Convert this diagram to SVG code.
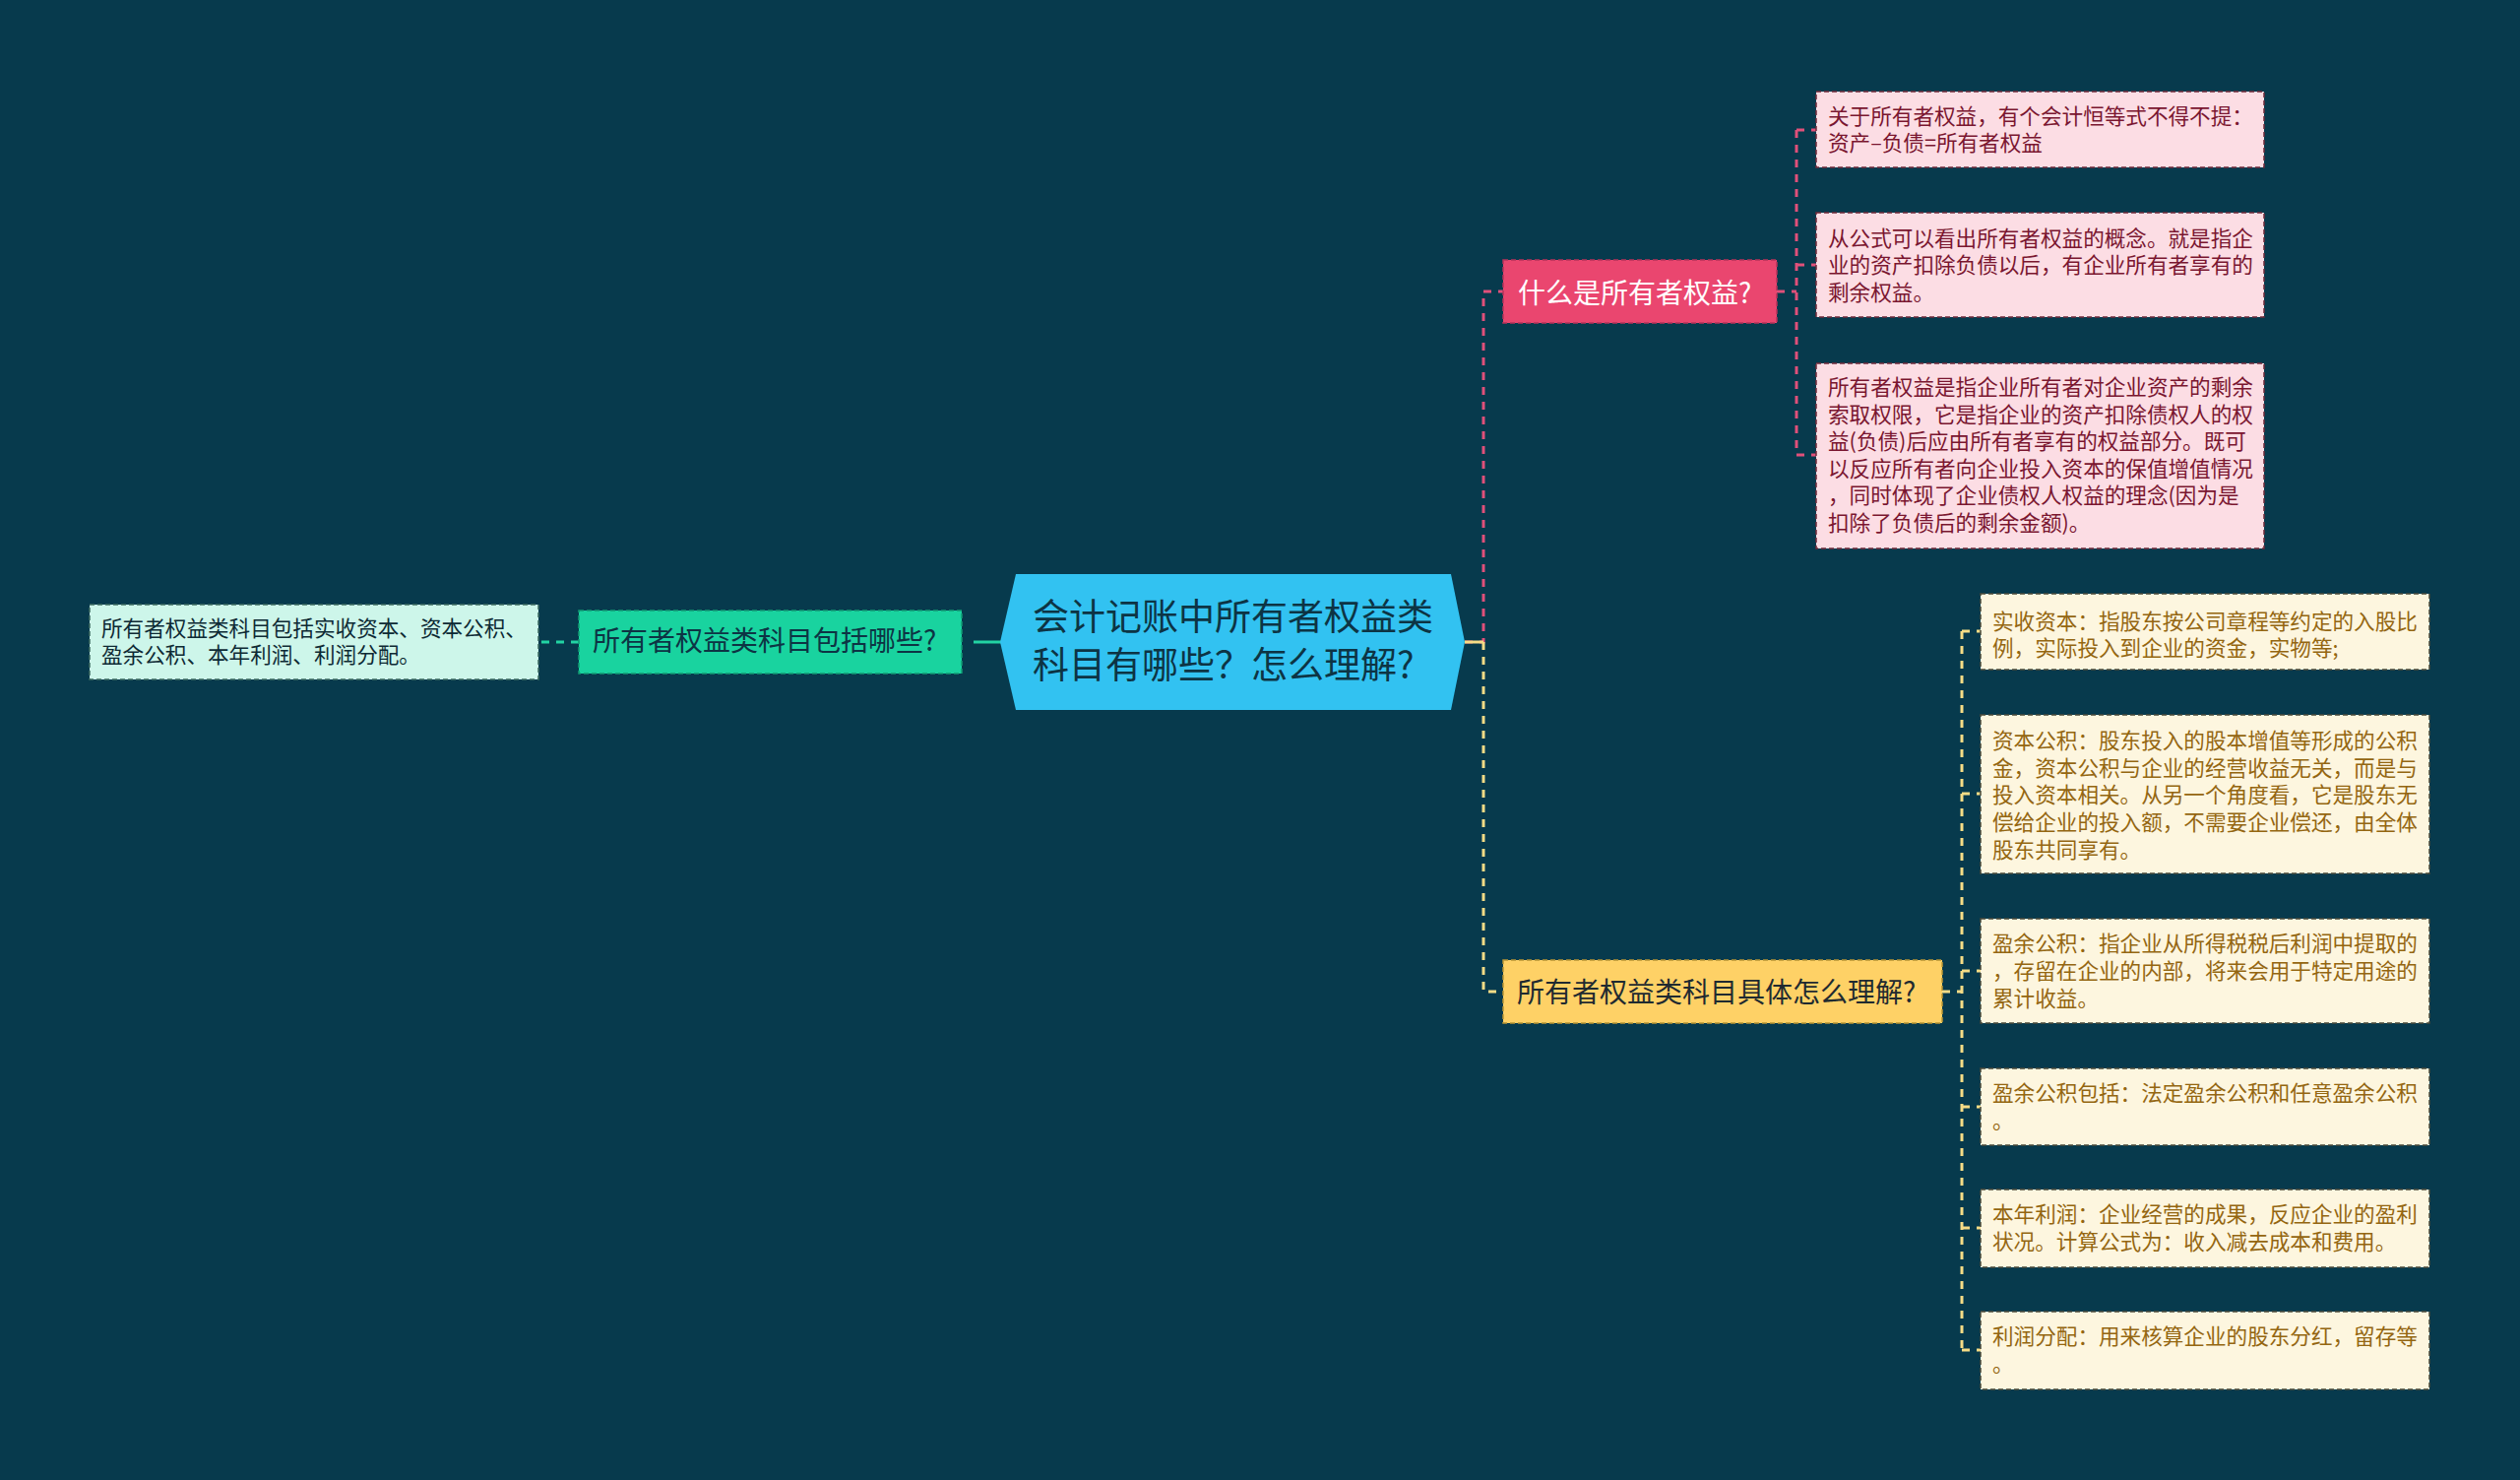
<svg xmlns="http://www.w3.org/2000/svg" width="2560" height="1503" viewBox="0 0 2560 1503">
<style>
text{font-family:"Noto Sans CJK SC","Noto Sans",sans-serif}
.c{stroke-width:3;fill:none;stroke-dasharray:8 7}
.cp{stroke:#e0507a}
.cy{stroke:#f6dc86}
.cg{stroke:#22d3a3}
.n{font-size:28px}
.l{font-size:21.6px}
.pl{fill:#fcdde4;stroke:#6e2a3a;stroke-width:1.5;stroke-dasharray:5 3}
.yl{fill:#fdf6df;stroke:#4a4a3a;stroke-width:1.5;stroke-dasharray:5 3}
.pt{fill:#7a1630}
.yt{fill:#946611}
</style>
<rect width="2560" height="1503" fill="#073a4d"/>
<g id="connectors">
<path d="M989,652 H1017" stroke="#22d3a3" stroke-width="3" fill="none"/>
<path class="c cg" d="M588,652 H547"/>
<path class="c cp" d="M1488,652 H1507 V296 H1527"/>
<path class="c cy" d="M1507,652 V1007 H1527"/>
<path d="M1488,652 H1507" stroke="#f6dc86" stroke-width="3" fill="none"/>
<path class="c cp" d="M1805,296 H1825 M1825,132 V462 M1825,132 H1845 M1825,269 H1845 M1825,462 H1845"/>
<path class="c cy" d="M1973,1007 H1993 M1993,641 V1371 M1993,641 H2012 M1993,806 H2012 M1993,986 H2012 M1993,1124 H2012 M1993,1247 H2012 M1993,1371 H2012"/>
</g>
<g id="center">
<polygon points="1016,652 1032,583 1474,583 1488,652 1474,721 1032,721" fill="#32c2f1"/>
<text x="1049" y="640" font-size="37" fill="#0d3444">会计记账中所有者权益类</text>
<text x="1049" y="689" font-size="37" fill="#0d3444">科目有哪些？怎么理解?</text>
</g>
<g id="n-pink">
<rect x="1527" y="264" width="278" height="64" fill="#ea466f" stroke="#b8325a" stroke-width="1.5" stroke-dasharray="5 3"/>
<text class="n" x="1542" y="308" fill="#ffffff">什么是所有者权益?</text>
</g>
<g id="n-yellow">
<rect x="1527" y="975" width="446" height="64" fill="#fed166" stroke="#b99535" stroke-width="1.5" stroke-dasharray="5 3"/>
<text class="n" x="1541" y="1018" fill="#1f2a30">所有者权益类科目具体怎么理解?</text>
</g>
<g id="n-green">
<rect x="588" y="620" width="389" height="64" fill="#19d39f" stroke="#129a74" stroke-width="1.5" stroke-dasharray="5 3"/>
<text class="n" x="602" y="661" fill="#0d3444">所有者权益类科目包括哪些?</text>
</g>
<g id="leaf-left">
<rect x="91" y="614" width="456" height="76" fill="#cdf6ea" stroke="#3c6a60" stroke-width="1.5" stroke-dasharray="5 3"/>
<text class="l" x="103" y="646" fill="#0d2a34">所有者权益类科目包括实收资本、资本公积、</text>
<text class="l" x="103" y="673" fill="#0d2a34">盈余公积、本年利润、利润分配。</text>
</g>
<g id="leaf-p1">
<rect class="pl" x="1845" y="93" width="455" height="77"/>
<text class="l pt" x="1857" y="126">关于所有者权益，有个会计恒等式不得不提：</text>
<text class="l pt" x="1857" y="153">资产–负债=所有者权益</text>
</g>
<g id="leaf-p2">
<rect class="pl" x="1845" y="216" width="455" height="106"/>
<text class="l pt" x="1857" y="250">从公式可以看出所有者权益的概念。就是指企</text>
<text class="l pt" x="1857" y="277">业的资产扣除负债以后，有企业所有者享有的</text>
<text class="l pt" x="1857" y="305">剩余权益。</text>
</g>
<g id="leaf-p3">
<rect class="pl" x="1845" y="369" width="455" height="188"/>
<text class="l pt" x="1857" y="401">所有者权益是指企业所有者对企业资产的剩余</text>
<text class="l pt" x="1857" y="429">索取权限，它是指企业的资产扣除债权人的权</text>
<text class="l pt" x="1857" y="456">益(负债)后应由所有者享有的权益部分。既可</text>
<text class="l pt" x="1857" y="484">以反应所有者向企业投入资本的保值增值情况</text>
<text class="l pt" x="1857" y="511">，同时体现了企业债权人权益的理念(因为是</text>
<text class="l pt" x="1857" y="539">扣除了负债后的剩余金额)。</text>
</g>
<g id="leaf-y1">
<rect class="yl" x="2012" y="603" width="456" height="77"/>
<text class="l yt" x="2024" y="639">实收资本：指股东按公司章程等约定的入股比</text>
<text class="l yt" x="2024" y="666">例，实际投入到企业的资金，实物等;</text>
</g>
<g id="leaf-y2">
<rect class="yl" x="2012" y="726" width="456" height="161"/>
<text class="l yt" x="2024" y="760">资本公积：股东投入的股本增值等形成的公积</text>
<text class="l yt" x="2024" y="788">金，资本公积与企业的经营收益无关，而是与</text>
<text class="l yt" x="2024" y="815">投入资本相关。从另一个角度看，它是股东无</text>
<text class="l yt" x="2024" y="843">偿给企业的投入额，不需要企业偿还，由全体</text>
<text class="l yt" x="2024" y="871">股东共同享有。</text>
</g>
<g id="leaf-y3">
<rect class="yl" x="2012" y="933" width="456" height="106"/>
<text class="l yt" x="2024" y="966">盈余公积：指企业从所得税税后利润中提取的</text>
<text class="l yt" x="2024" y="994">，存留在企业的内部，将来会用于特定用途的</text>
<text class="l yt" x="2024" y="1022">累计收益。</text>
</g>
<g id="leaf-y4">
<rect class="yl" x="2012" y="1085" width="456" height="78"/>
<text class="l yt" x="2024" y="1118">盈余公积包括：法定盈余公积和任意盈余公积</text>
<text class="l yt" x="2024" y="1146">。</text>
</g>
<g id="leaf-y5">
<rect class="yl" x="2012" y="1208" width="456" height="79"/>
<text class="l yt" x="2024" y="1241">本年利润：企业经营的成果，反应企业的盈利</text>
<text class="l yt" x="2024" y="1269">状况。计算公式为：收入减去成本和费用。</text>
</g>
<g id="leaf-y6">
<rect class="yl" x="2012" y="1332" width="456" height="79"/>
<text class="l yt" x="2024" y="1365">利润分配：用来核算企业的股东分红，留存等</text>
<text class="l yt" x="2024" y="1393">。</text>
</g>
</svg>
